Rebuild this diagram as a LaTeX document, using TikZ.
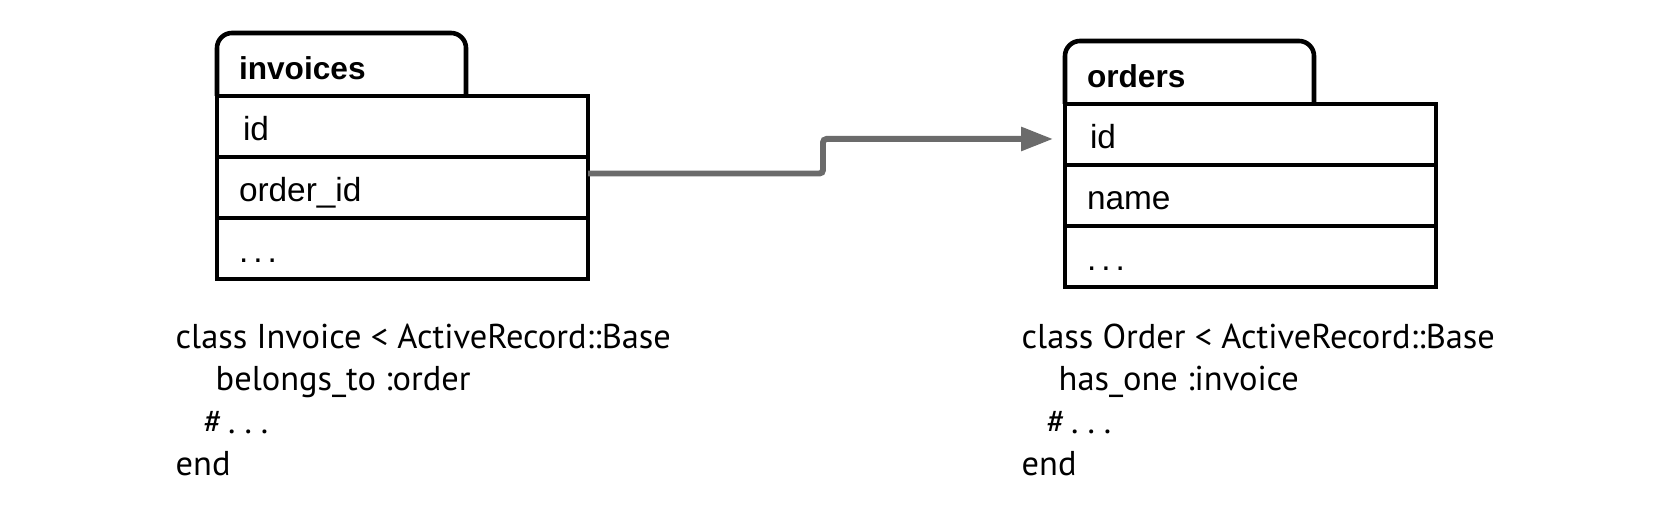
\documentclass[tikz,border=0pt]{standalone}
\usepackage{fontspec}
\setmainfont{Liberation Sans}
\newfontfamily\codefont{PT Sans}
\usetikzlibrary{positioning, arrows.meta}
\definecolor{linkgray}{RGB}{107,107,107}
\newcommand{\gapdots}[1][0.2em]{.\hspace{#1}.\hspace{#1}.}

\begin{document}
\begin{tikzpicture}[
    node distance=0pt,
    tab/.style={rectangle, inner xsep=0.22cm, inner ysep=0pt, outer sep=0pt, minimum height=0.63cm, text width=2.05cm, align=left, text height=0.31cm, text depth=0pt, font=\fontsize{9}{10}\selectfont\bfseries},
    tabline/.style={draw, line width=1.3pt, rounded corners=0.15cm},
    row/.style={rectangle, draw, line width=1.3pt, inner xsep=0.22cm, inner ysep=0pt, outer sep=0pt, minimum height=0.61cm, text width=3.27cm, align=left, text height=0.29cm, text depth=0pt, font=\fontsize{9.5}{11}\selectfont},
    code/.style={inner sep=0pt, align=left, anchor=north west, font=\codefont\fontsize{9.8}{12.1}\selectfont},
    link/.style={draw=linkgray, line width=1.7pt, rounded corners=1pt, -{Triangle[length=0.32cm, width=0.23cm]}}
  ]
  \useasboundingbox (0,0) rectangle (16.62,-5.18);
  % invoices table
  \node[tab, anchor=south west] (inv-tab) at (2.17,-0.96) {invoices};
  \node[row, anchor=north west] (inv-id) at (inv-tab.south west) {\hspace*{0.04cm}id};
  \node[row, below=of inv-id] (inv-oid) {order\_id};
  \node[row, below=of inv-oid] (inv-more) {\gapdots[0.15em]};
  \draw[tabline] (inv-tab.south west) |- (inv-tab.north east) -- (inv-tab.south east);
  % orders table
  \node[tab, anchor=south west] (ord-tab) at (10.65,-1.04) {orders};
  \node[row, anchor=north west] (ord-id) at (ord-tab.south west) {\hspace*{0.03cm}id};
  \node[row, below=of ord-id] (ord-name) {name};
  \node[row, below=of ord-name] (ord-more) {\gapdots[0.15em]};
  \draw[tabline] (ord-tab.south west) |- (ord-tab.north east) -- (ord-tab.south east);
  % foreign key
  \draw[link] ([yshift=0.14cm]inv-oid.east) -- ++(2.35,0) |- ([xshift=-0.12cm, yshift=-0.045cm]ord-id.west);
  % model code
  \node[code] (inv-code) at (1.75,-3.23) {class Invoice < ActiveRecord::Base\\
    \hspace*{0.40cm}belongs\_to :order\\
    \hspace*{0.28cm}\#\,\gapdots[0.26em]\\
    end};
  \node[code] (ord-code) at (10.21,-3.23) {class Order < ActiveRecord::Base\\
    \hspace*{0.37cm}has\_one :invoice\\
    \hspace*{0.25cm}\#\,\gapdots[0.26em]\\
    end};
\end{tikzpicture}
\end{document}
